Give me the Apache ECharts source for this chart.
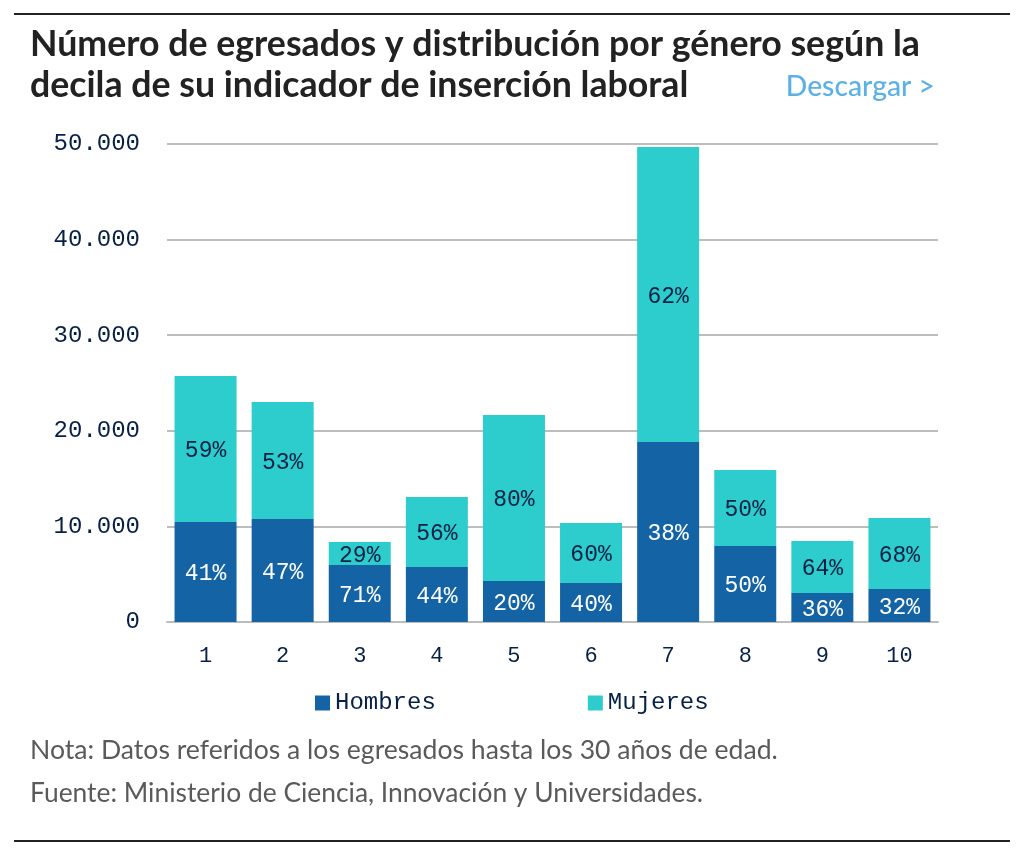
<!DOCTYPE html>
<html lang="es">
<head>
<meta charset="utf-8">
<title>Egresados por decila</title>
<script src="https://cdn.jsdelivr.net/npm/echarts@6/dist/echarts.min.js"></script>
<style>
  html, body { margin: 0; padding: 0; background: #fff; }
  #chart { width: 1024px; height: 852px; }
</style>
</head>
<body>
<div id="chart"></div>
<script>
const deciles = ['1', '2', '3', '4', '5', '6', '7', '8', '9', '10'];
const hombres = [10460, 10770, 5960, 5750, 4290, 4080, 18830, 7950, 3030, 3450];
const mujeres = [15270, 12240, 2410, 7325, 17360, 6275, 30860, 7950, 5440, 7430];
const hombresPct = ['41%', '47%', '71%', '44%', '20%', '40%', '38%', '50%', '36%', '32%'];
const mujeresPct = ['59%', '53%', '29%', '56%', '80%', '60%', '62%', '50%', '64%', '68%'];
const yTickLabels = ['0', '10.000', '20.000', '30.000', '40.000', '50.000'];

const titleLines = [
  'Número de egresados y distribución por género según la',
  'decila de su indicador de inserción laboral'
];
const notes = [
  'Nota: Datos referidos a los egresados hasta los 30 años de edad.',
  'Fuente: Ministerio de Ciencia, Innovación y Universidades.'
];

const navy = '#072146';
const monoFont = '"Liberation Mono", monospace';
const textFont = 'Lato, sans-serif';

const chart = echarts.init(document.getElementById('chart'), null, { renderer: 'canvas' });

const rule = y => ({
  type: 'line',
  shape: { x1: 14, y1: y, x2: 1010, y2: y },
  style: { stroke: '#222', lineWidth: 2 }
});

const textItem = (x, y, text, font, fill, align) => ({
  type: 'text',
  x,
  y,
  style: { text, font, fill, align: align || 'left', verticalAlign: 'middle' }
});

chart.setOption({
  animation: false,
  backgroundColor: '#fff',
  grid: { left: 167, right: 86, top: 144, bottom: 230, containLabel: false },
  legend: {
    left: 310,
    top: 686,
    itemWidth: 15,
    itemHeight: 15,
    itemGap: 152,
    icon: 'rect',
    textStyle: { fontFamily: monoFont, fontSize: 24, color: navy },
    data: ['Hombres', 'Mujeres']
  },
  xAxis: {
    type: 'category',
    data: deciles,
    axisTick: { show: false },
    axisLine: { show: true, lineStyle: { color: '#bdbdbd', width: 2 } },
    axisLabel: { color: navy, fontFamily: monoFont, fontSize: 22, margin: 23 }
  },
  yAxis: {
    type: 'value',
    min: 0,
    max: 50000,
    interval: 10000,
    axisLine: { show: false },
    axisTick: { show: false },
    axisLabel: {
      color: navy,
      fontFamily: monoFont,
      fontSize: 24,
      margin: 27,
      padding: [2, 0, 0, 0],
      formatter: value => yTickLabels[value / 10000]
    },
    splitLine: { lineStyle: { color: '#bdbdbd', width: 2 } }
  },
  series: [
    {
      name: 'Hombres',
      type: 'bar',
      stack: 'total',
      barWidth: 62,
      data: hombres,
      itemStyle: { color: '#1464a5' },
      label: {
        show: true,
        position: 'inside',
        offset: [0, 2],
        color: '#fff',
        fontFamily: monoFont,
        fontSize: 23,
        formatter: params => hombresPct[params.dataIndex]
      }
    },
    {
      name: 'Mujeres',
      type: 'bar',
      stack: 'total',
      barWidth: 62,
      data: mujeres,
      itemStyle: { color: '#2dcccd' },
      label: {
        show: true,
        position: 'inside',
        offset: [0, 2],
        color: navy,
        fontFamily: monoFont,
        fontSize: 23,
        formatter: params => mujeresPct[params.dataIndex]
      }
    }
  ],
  graphic: [
    rule(14),
    rule(841),
    textItem(30, 44, titleLines[0], '700 35.7px ' + textFont, '#222'),
    textItem(30, 85, titleLines[1], '700 35.7px ' + textFont, '#222'),
    textItem(935, 87, 'Descargar >', '500 28.3px ' + textFont, '#5bb0e6', 'right'),
    textItem(30, 750, notes[0], '400 26.6px ' + textFont, '#5a5a5a'),
    textItem(30, 793, notes[1], '400 26.4px ' + textFont, '#5a5a5a')
  ]
});

window.addEventListener('resize', () => chart.resize());
</script>
</body>
</html>
